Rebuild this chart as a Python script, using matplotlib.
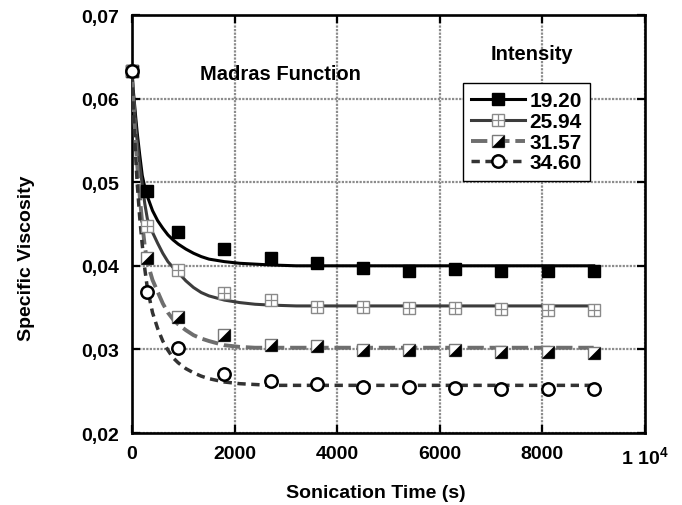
import matplotlib
matplotlib.use("Agg")
import matplotlib.pyplot as plt
from matplotlib.lines import Line2D
from matplotlib.legend_handler import HandlerTuple
from matplotlib.ticker import FixedLocator, FixedFormatter

plt.rcParams['font.family'] = ['Liberation Sans', 'DejaVu Sans']
plt.rcParams['font.weight'] = 'bold'
plt.rcParams['mathtext.fontset'] = 'custom'
plt.rcParams['mathtext.rm'] = 'Liberation Sans:bold'
plt.rcParams['mathtext.bf'] = 'Liberation Sans:bold'
plt.rcParams['mathtext.it'] = 'Liberation Sans:bold'

# ---------------- data ----------------
labels = ["19.20", "25.94", "31.57", "34.60"]

t_meas = [0, 300, 900, 1800, 2700, 3600, 4500, 5400, 6300, 7200, 8100, 9000]
v_1920 = [0.0633, 0.0489, 0.0440, 0.0420, 0.0409, 0.0403, 0.0397, 0.0394, 0.0396, 0.0394, 0.0394, 0.0394]
v_2594 = [0.0633, 0.0448, 0.0395, 0.0367, 0.0359, 0.0351, 0.0351, 0.0350, 0.0350, 0.0348, 0.0347, 0.0347]
v_3157 = [0.0633, 0.0409, 0.0339, 0.0317, 0.0305, 0.0304, 0.0299, 0.0299, 0.0299, 0.0297, 0.0297, 0.0296]
v_3460 = [0.0633, 0.0369, 0.0302, 0.0271, 0.0262, 0.0259, 0.0255, 0.0255, 0.0254, 0.0253, 0.0253, 0.0253]

# fitted (Madras function) curves
t_fit = [0, 25, 50, 75, 100, 150, 200, 250, 300, 400, 500, 600, 700, 800, 900,
         1050, 1200, 1350, 1500, 1800, 2100, 2400, 2700, 3200, 3600, 4500, 6000, 9000]
f_1920 = [0.0630, 0.0610, 0.0593, 0.0576, 0.0560, 0.0533, 0.0508, 0.0494, 0.0483, 0.0466, 0.0454,
          0.0445, 0.0437, 0.0431, 0.0426, 0.0420, 0.0415, 0.0411, 0.0408, 0.0405, 0.0403, 0.0402,
          0.0401, 0.0400, 0.0400, 0.0400, 0.0400, 0.0400]
f_2594 = [0.0630, 0.0605, 0.0585, 0.0566, 0.0550, 0.0521, 0.0497, 0.0474, 0.0456, 0.0440, 0.0427,
          0.0415, 0.0405, 0.0398, 0.0392, 0.0382, 0.0374, 0.0368, 0.0364, 0.0359, 0.0356, 0.0354,
          0.0353, 0.0352, 0.0352, 0.0352, 0.0352, 0.0352]
f_3157 = [0.0630, 0.0598, 0.0570, 0.0545, 0.0522, 0.0484, 0.0450, 0.0423, 0.0404, 0.0383, 0.0369,
          0.0355, 0.0344, 0.0336, 0.0330, 0.0323, 0.0317, 0.0313, 0.0310, 0.0305, 0.0303, 0.0302,
          0.0302, 0.0302, 0.0302, 0.0302, 0.0302, 0.0302]
f_3460 = [0.0630, 0.0590, 0.0556, 0.0527, 0.0500, 0.0458, 0.0425, 0.0396, 0.0373, 0.0344, 0.0325,
          0.0310, 0.0299, 0.0290, 0.0284, 0.0277, 0.0272, 0.0268, 0.0265, 0.0261, 0.0259, 0.0258,
          0.0257, 0.0257, 0.0257, 0.0257, 0.0257, 0.0257]

x_ticks = [0, 2000, 4000, 6000, 8000, 10000]
x_ticklabels = ["0", "2000", "4000", "6000", "8000", r"1 10$^{4}$"]
y_ticks = [0.02, 0.03, 0.04, 0.05, 0.06, 0.07]
y_ticklabels = ["0,02", "0,03", "0,04", "0,05", "0,06", "0,07"]

# ---------------- figure ----------------
fig = plt.figure(figsize=(6.82, 5.06), dpi=100)
ax = fig.add_axes([132/682, (506-434)/506, (645-132)/682, (434-16)/506])
ax.set_xlim(0, 10000)
ax.set_ylim(0.02, 0.07)

ax.grid(True, color='#8c8c8c', linestyle=(0, (1, 0.6)), linewidth=1.6, zorder=0)
ax.set_axisbelow(True)

ms = 8.4
tri = [(1, -1), (1, 1), (-1, -1), (1, -1)]

# curves
l1, = ax.plot(t_fit, f_1920, color='black', lw=2.2, zorder=3)
l2, = ax.plot(t_fit, f_2594, color='#3c3c3c', lw=2.2, zorder=3)
l3, = ax.plot(t_fit, f_3157, color='#6e6e6e', lw=2.8, dashes=(4.2, 1.5), zorder=3)
l4, = ax.plot(t_fit, f_3460, color='#333333', lw=2.5, dashes=(2.4, 1.6), zorder=3)

# markers
m1, = ax.plot(t_meas, v_1920, 's', ms=ms, mfc='black', mec='black', mew=1, ls='none', zorder=5, clip_on=False)
m2a, = ax.plot(t_meas, v_2594, 's', ms=ms, mfc='white', mec='#8a8a8a', mew=1, ls='none', zorder=5, clip_on=False)
m2b, = ax.plot(t_meas, v_2594, '+', ms=ms, mec='#8a8a8a', mew=0.9, ls='none', zorder=6, clip_on=False)
m3a, = ax.plot(t_meas, v_3157, 's', ms=ms, mfc='white', mec='#7a7a7a', mew=1, ls='none', zorder=5, clip_on=False)
m3b, = ax.plot(t_meas, v_3157, marker=tri, ms=ms, mfc='black', mec='black', mew=0.5, ls='none', zorder=6, clip_on=False)
m4, = ax.plot(t_meas, v_3460, 'o', ms=ms + 0.5, mfc='white', mec='black', mew=1.8, ls='none', zorder=7, clip_on=False)

# axes styling
for s in ax.spines.values():
    s.set_linewidth(1.9)
ax.xaxis.set_major_locator(FixedLocator(x_ticks))
ax.xaxis.set_major_formatter(FixedFormatter(x_ticklabels))
ax.yaxis.set_major_locator(FixedLocator(y_ticks))
ax.yaxis.set_major_formatter(FixedFormatter(y_ticklabels))
ax.tick_params(axis='both', direction='in', length=6, width=1.6, top=True, right=True, labelsize=14)
ax.tick_params(axis='y', pad=9)
ax.tick_params(axis='x', pad=9)

ax.set_xlabel("Sonication Time (s)", fontsize=14, fontweight='bold')
ax.set_ylabel("Specific Viscosity", fontsize=14, fontweight='bold')
ax.xaxis.set_label_coords(0.476, -0.122)
ax.yaxis.set_label_coords(-0.19, 0.42)

ax.text(0.2885, 0.861, "Madras Function", transform=ax.transAxes, ha='center', va='center',
        fontsize=14.5, fontweight='bold')
ax.text(0.78, 0.907, "Intensity", transform=ax.transAxes, ha='center', va='center',
        fontsize=14.5, fontweight='bold')

# legend handles
h1 = Line2D([], [], color='black', lw=2.2, marker='s', ms=ms, mfc='black', mec='black')
h2a = Line2D([], [], color='#3c3c3c', lw=2.2, marker='s', ms=ms, mfc='white', mec='#8a8a8a')
h2b = Line2D([], [], ls='none', marker='+', ms=ms, mec='#8a8a8a', mew=0.9)
h3a = Line2D([], [], color='#6e6e6e', lw=2.8, dashes=(4.2, 1.5), marker='s', ms=ms, mfc='white', mec='#7a7a7a')
h3b = Line2D([], [], ls='none', marker=tri, ms=ms, mfc='black', mec='black', mew=0.5)
h4 = Line2D([], [], color='#333333', lw=2.5, dashes=(2.4, 1.6), marker='o', ms=ms + 0.5, mfc='white', mec='black', mew=1.8)

leg = ax.legend([h1, (h2a, h2b), (h3a, h3b), h4], labels,
                handler_map={tuple: HandlerTuple(ndivide=1)},
                loc='upper left', bbox_to_anchor=(0.645, 0.837), borderaxespad=0,
                fancybox=False, edgecolor='black', framealpha=1,
                handlelength=2.6, handletextpad=0.2, labelspacing=0.08, borderpad=0.4,
                numpoints=1, prop={'weight': 'bold', 'size': 15})
leg.get_frame().set_linewidth(1.0)
leg.set_zorder(10)

fig.savefig("out.png", dpi=100)
